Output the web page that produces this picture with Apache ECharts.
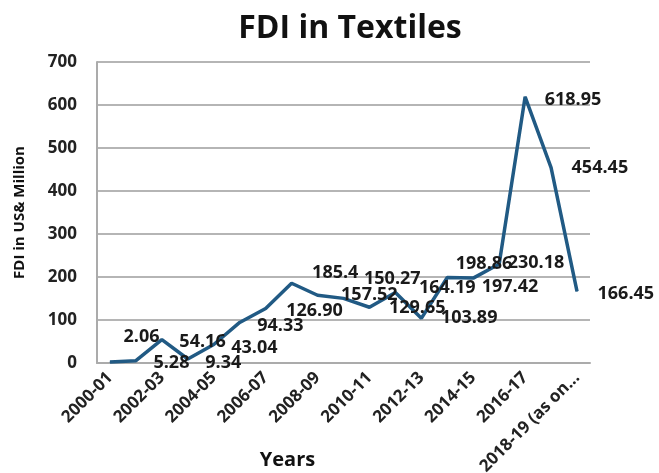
<!DOCTYPE html>
<html>
<head>
<meta charset="utf-8">
<script src="https://cdn.jsdelivr.net/npm/echarts@6/dist/echarts.min.js"></script>
<style>html,body{margin:0;padding:0;background:#fff;}#c{width:659px;height:473px;}</style>
</head>
<body>
<div id="c"></div>
<script>
var categories = ["2000-01","2001-02","2002-03","2003-04","2004-05","2005-06","2006-07","2007-08","2008-09","2009-10","2010-11","2011-12","2012-13","2013-14","2014-15","2015-16","2016-17","2017-18","2018-19 (as on..."];
var fdiValues = [2.06, 5.28, 54.16, 9.34, 43.04, 94.33, 126.90, 185.4, 157.52, 150.27, 129.65, 164.19, 103.89, 198.86, 197.42, 230.18, 618.95, 454.45, 166.45];
var valueLabels = ["2.06","5.28","54.16","9.34","43.04","94.33","126.90","185.4","157.52","150.27","129.65","164.19","103.89","198.86","197.42","230.18","618.95","454.45","166.45"];
var yTicks = [0, 100, 200, 300, 400, 500, 600, 700];
// label nudges (style only)
var labelNudge = [[-4,-25],[0,2],[0,2],[0,4],[0,3],[0,3],[3,2],[3,-10],[6,0],[3,-20],[2,1],[6,-5],[2,0],[-9,-14],[-9,9],[-9,-1],[2,3],[3,0],[3,2]];

var font = '"Open Sans", "Noto Sans", sans-serif';
var data = fdiValues.map(function(v, i){
  return {value: v, label: {offset: labelNudge[i], formatter: valueLabels[i]}};
});
var chart = echarts.init(document.getElementById('c'));
chart.setOption({
  animation: false,
  backgroundColor: '#fff',
  title: {text: 'FDI in Textiles', left: 345, textAlign: 'center', top: 8,
    textStyle: {fontFamily: font, fontWeight: 'bold', fontSize: 32, color: '#111'}},
  grid: {left: 97, right: 69, top: 62, bottom: 110, containLabel: false, outerBoundsMode: 'none'},
  xAxis: {
    type: 'category', data: categories, boundaryGap: true,
    name: 'Years', nameLocation: 'middle', nameGap: 87, nameMoveOverlap: false,
    nameTextStyle: {fontFamily: font, fontWeight: 'bold', fontSize: 20, color: '#111', padding: [0, 112, 0, 0]},
    axisLine: {lineStyle: {color: '#ababab', width: 2}},
    axisTick: {show: false},
    axisLabel: {interval: 1, rotate: 45, margin: 12, fontFamily: font, fontWeight: 'bold', fontSize: 17, color: '#222'}
  },
  yAxis: {
    type: 'value', min: 0, max: 700, interval: 100,
    name: 'FDI in US& Million', nameLocation: 'middle', nameGap: 70, nameRotate: 90, nameMoveOverlap: false,
    nameTextStyle: {fontFamily: font, fontWeight: 'bold', fontSize: 15, color: '#111'},
    axisLine: {show: true, lineStyle: {color: '#ababab', width: 2}},
    axisTick: {show: false},
    splitLine: {lineStyle: {color: '#b5b5b5', width: 2}},
    axisLabel: {margin: 20, fontFamily: font, fontWeight: 'bold', fontSize: 17, color: '#222',
      formatter: function(v){ return yTicks.indexOf(v) >= 0 ? String(v) : ''; }}
  },
  series: [{
    type: 'line', data: data,
    symbol: 'circle', symbolSize: 1, showSymbol: true,
    itemStyle: {color: '#215a84'},
    lineStyle: {color: '#215a84', width: 3.5},
    label: {show: true, position: 'right', distance: 17, fontFamily: font, fontWeight: 'bold', fontSize: 18, color: '#1a1a1a'}
  }]
});
</script>
</body>
</html>
